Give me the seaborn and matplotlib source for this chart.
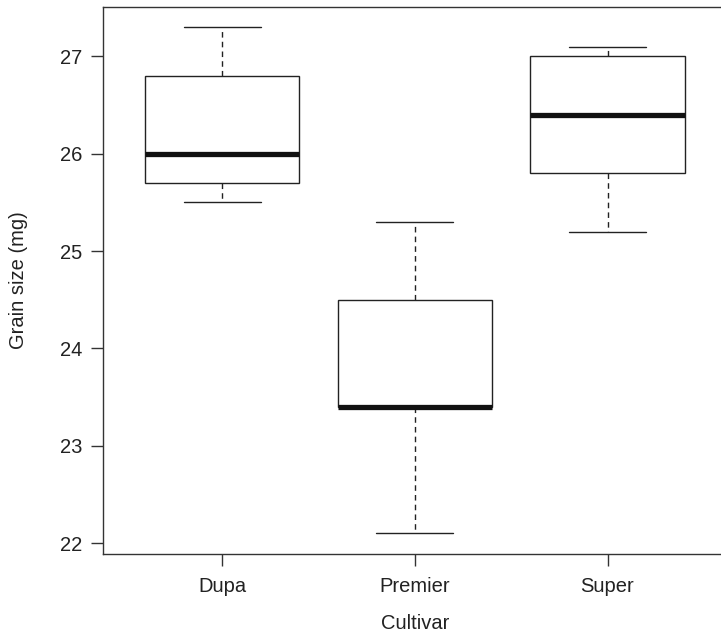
import matplotlib
matplotlib.use("Agg")
import matplotlib.pyplot as plt
import seaborn as sns
import pandas as pd

cultivars = ["Dupa", "Premier", "Super"]
dupa = [25.5, 25.7, 26.0, 26.8, 27.3]
premier = [22.1, 23.4, 23.4, 24.5, 25.3]
super_ = [25.2, 25.8, 26.4, 27.0, 27.1]
y_ticks = [22, 23, 24, 25, 26, 27]

df = pd.DataFrame({
    "Cultivar": [cultivars[0]] * len(dupa) + [cultivars[1]] * len(premier) + [cultivars[2]] * len(super_),
    "Grain size (mg)": dupa + premier + super_,
})

sns.set_style("white")
plt.rcParams["font.family"] = ["Liberation Sans", "DejaVu Sans"]
txt = "#222222"
axc = "#333333"

fig = plt.figure(figsize=(7.21, 6.33), dpi=100)
ax = fig.add_axes([0.1423, 0.1253, 0.866, 0.8636])

sns.boxplot(
    data=df, x="Cultivar", y="Grain size (mg)", order=cultivars,
    color="white", saturation=1, linecolor="black", linewidth=1.0,
    width=0.8, whis=(0, 100), showfliers=False, ax=ax,
    boxprops=dict(edgecolor="#222222", linewidth=1.0),
    medianprops=dict(color="#111111", linewidth=3.8, solid_capstyle="butt"),
    whiskerprops=dict(color="#222222", linewidth=1.0, linestyle=(0, (4, 3))),
    capprops=dict(color="#222222", linewidth=1.0),
)

ax.set_xlim(-0.62, 2.62)
ax.set_ylim(21.892, 27.508)
ax.set_yticks(y_ticks)
ax.set_yticklabels([str(t) for t in y_ticks])

for side in ["left", "top", "bottom", "right"]:
    ax.spines[side].set_visible(True)
    ax.spines[side].set_color(axc)
    ax.spines[side].set_linewidth(1.0)

ax.tick_params(axis="both", which="major", direction="out", length=8.5, width=1.0,
               color=axc, labelcolor=txt, labelsize=14.5, bottom=True, left=True)
ax.tick_params(axis="x", pad=8.5)
ax.tick_params(axis="y", pad=6)
ax.set_xlabel("Cultivar", fontsize=14.5, color=txt, labelpad=12.5)
ax.set_ylabel("Grain size (mg)", fontsize=14.5, color=txt, labelpad=23)

fig.savefig("out.png", dpi=100)
